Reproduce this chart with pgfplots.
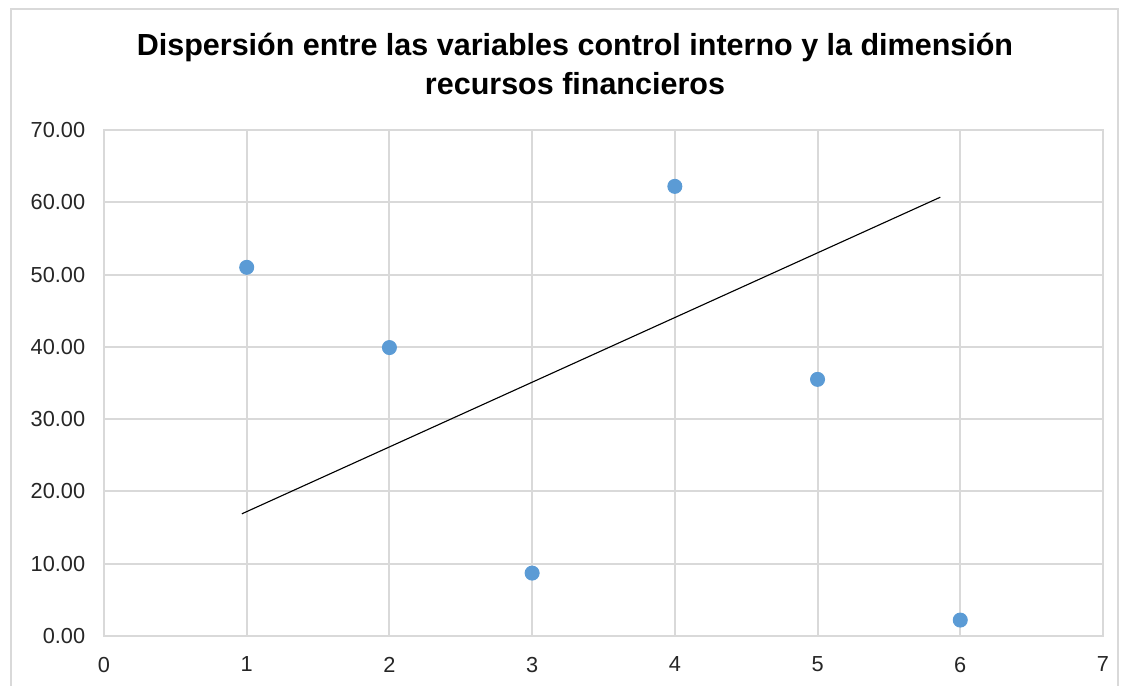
\documentclass[border=0pt]{standalone}
\usepackage{fontspec}
\setmainfont{Liberation Sans}
\usepackage{pgfplots}
\pgfplotsset{compat=1.18}
\definecolor{gridgray}{HTML}{D9D9D9}
\definecolor{ptblue}{HTML}{5B9BD5}
\definecolor{txt}{HTML}{262626}
\begin{document}
\begin{tikzpicture}
\useasboundingbox (0pt,0pt) rectangle (450.8pt,274.4pt);
\draw[gridgray, line width=0.8pt] (4.4pt,0pt) -- (4.4pt,270.8pt) -- (447.2pt,270.8pt) -- (447.2pt,0pt);
\node[anchor=base, text=black, font=\fontsize{12.2pt}{14pt}\selectfont\bfseries] at (230pt,252pt) {Dispersión entre las variables control interno y la dimensión};
\node[anchor=base, text=black, font=\fontsize{12.2pt}{14pt}\selectfont\bfseries] at (230pt,236.4pt) {recursos financieros};
\begin{axis}[
  at={(41.6pt,20pt)}, anchor=south west,
  scale only axis, width=399.6pt, height=202.4pt,
  xmin=0, xmax=7, ymin=0, ymax=70,
  xtick={0,1,...,7}, ytick={0,10,...,70},
  grid=major,
  major grid style={gridgray, line width=0.8pt},
  axis line style={gridgray, line width=0.8pt},
  major tick length=0pt,
  tick label style={font=\fontsize{8.7pt}{10pt}\selectfont, text=txt},
  yticklabel style={/pgf/number format/.cd, fixed, fixed zerofill, precision=2, assume math mode=true},
  xticklabel style={/pgf/number format/assume math mode=true},
  xticklabel shift=4.8pt, yticklabel shift=4pt,
  clip=false,
]
\addplot[black, line width=0.45pt] coordinates {(0.966,16.9) (5.86,60.7)};
\addplot[only marks, mark=*, mark size=2.8pt, mark options={fill=ptblue, draw=ptblue}] coordinates {
(1,51.0) (2,39.9) (3,8.7) (4,62.2) (5,35.5) (6,2.2)};
\end{axis}
\end{tikzpicture}
\end{document}
